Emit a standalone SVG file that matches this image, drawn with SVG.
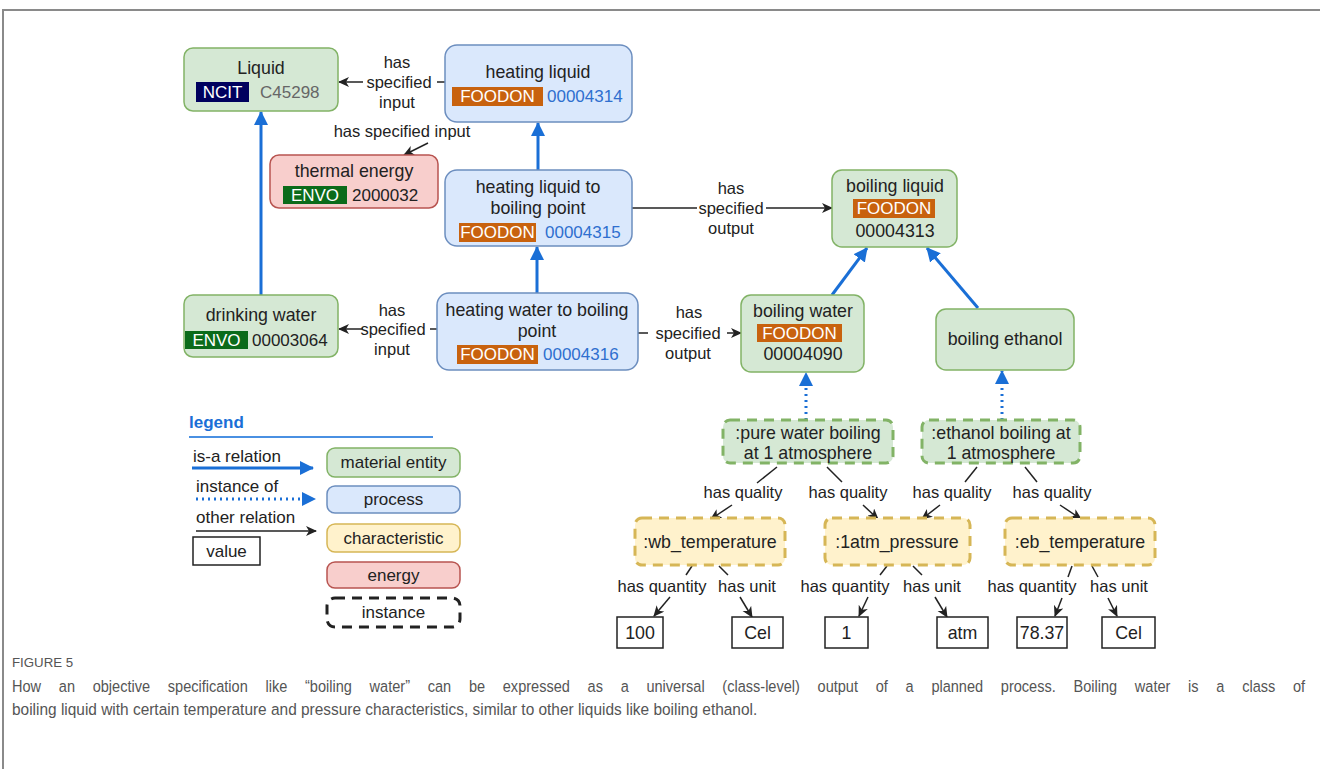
<svg xmlns="http://www.w3.org/2000/svg" width="1320" height="769" viewBox="0 0 1320 769">
  <style>
    text { font-family: "Liberation Sans", Arial, sans-serif; fill: #222; }
    .nt { font-size: 17.8px; text-anchor: middle; }
    .lb { font-size: 16.5px; text-anchor: middle; }
    .bt { font-size: 17px; fill: #fff; text-anchor: middle; }
    .idb { font-size: 17px; fill: #2f6fcf; }
    .idk { font-size: 17px; fill: #222; }
    .mat { fill: #d5e8d4; stroke: #82b366; stroke-width: 1.5; }
    .pro { fill: #dae8fc; stroke: #6c8ebf; stroke-width: 1.5; }
    .chr { fill: #fff2cc; stroke: #d6b656; stroke-width: 1.5; }
    .eng { fill: #f8cecc; stroke: #b85450; stroke-width: 1.5; }
    .inst { stroke-width: 3; stroke-dasharray: 10 7; }
    .val { fill: #fff; stroke: #222; stroke-width: 1.5; }
    .isa { fill: none; stroke: #1a6fd6; stroke-width: 3; marker-end: url(#blueHead); }
    .iof { fill: none; stroke: #1a6fd6; stroke-width: 3; stroke-dasharray: 2 4; marker-end: url(#blueHead); }
    .rel { fill: none; stroke: #222; stroke-width: 1.5; }
    .rela { fill: none; stroke: #222; stroke-width: 1.5; marker-end: url(#blackHead); }
    .foodon { fill: #c8620e; }
    .envo { fill: #0b6b1a; }
    .ncit { fill: #00005e; }
    .cap { font-family: "Liberation Sans", Arial, sans-serif; fill: #555; }
  </style>
  <defs>
    <marker id="blueHead" markerUnits="userSpaceOnUse" markerWidth="16" markerHeight="16" refX="13" refY="7" orient="auto">
      <path d="M0,0 L14,7 L0,14 Z" fill="#1a6fd6"/>
    </marker>
    <marker id="blackHead" markerUnits="userSpaceOnUse" markerWidth="12" markerHeight="12" refX="10" refY="5" orient="auto">
      <path d="M0,0 L11,5 L0,10 L3,5 Z" fill="#222"/>
    </marker>
  </defs>

  <rect x="0" y="0" width="1320" height="769" fill="#fff"/>
  <!-- figure frame -->
  <path d="M3,769 V10 H1320" fill="none" stroke="#8a8a8a" stroke-width="2"/>

  <!-- connectors -->
  <g id="connectors">
    <path class="isa" d="M261,295 V112"/>
    <path class="isa" d="M538,170 V123"/>
    <path class="isa" d="M537,293 V247"/>
    <path class="isa" d="M832,295 L867,248"/>
    <path class="isa" d="M978,308 L927,248"/>
    <path class="iof" d="M806,420 V373"/>
    <path class="iof" d="M1002,420 V371"/>

    <path class="rel" d="M445,82 H437"/>
    <path class="rela" d="M363,82 H339"/>
    <path class="rela" d="M428,143 L404,155"/>
    <path class="rel" d="M632,208 H697"/>
    <path class="rela" d="M766,208 H832"/>
    <path class="rel" d="M437,329 H430"/>
    <path class="rela" d="M363,329 H339"/>
    <path class="rel" d="M638,333 H648"/>
    <path class="rela" d="M727,333 H741"/>

    <path class="rel" d="M777,467 L757,483"/>
    <path class="rela" d="M732,505 L711,519"/>
    <path class="rel" d="M827,467 L842,482"/>
    <path class="rela" d="M863,505 L878,519"/>
    <path class="rel" d="M977,467 L965,482"/>
    <path class="rela" d="M940,505 L922,519"/>
    <path class="rel" d="M1025,467 L1037,482"/>
    <path class="rela" d="M1060,505 L1081,519"/>

    <path class="rel" d="M692,566 L686,575"/>
    <path class="rela" d="M670,597 L654,616"/>
    <path class="rel" d="M719,566 L728,575"/>
    <path class="rela" d="M740,597 L752,617"/>
    <path class="rel" d="M887,566 L880,575"/>
    <path class="rela" d="M868,597 L859,616"/>
    <path class="rel" d="M913,566 L922,575"/>
    <path class="rela" d="M935,597 L947,617"/>
    <path class="rel" d="M1072,566 L1068,577"/>
    <path class="rela" d="M1062,598 L1055,616"/>
    <path class="rel" d="M1092,566 L1098,577"/>
    <path class="rela" d="M1108,598 L1117,616"/>

    <!-- connector labels -->
    <text class="lb" x="397" y="68">has</text>
    <text class="lb" x="399" y="88">specified</text>
    <text class="lb" x="397" y="108">input</text>
    <text class="lb" x="402" y="137">has specified input</text>
    <text class="lb" x="731" y="194">has</text>
    <text class="lb" x="731" y="214">specified</text>
    <text class="lb" x="731" y="234">output</text>
    <text class="lb" x="392" y="316">has</text>
    <text class="lb" x="393" y="335">specified</text>
    <text class="lb" x="392" y="355">input</text>
    <text class="lb" x="689" y="318">has</text>
    <text class="lb" x="688" y="339">specified</text>
    <text class="lb" x="688" y="359">output</text>
    <text class="lb" x="743" y="498">has quality</text>
    <text class="lb" x="848" y="498">has quality</text>
    <text class="lb" x="952" y="498">has quality</text>
    <text class="lb" x="1052" y="498">has quality</text>
    <text class="lb" x="662" y="592">has quantity</text>
    <text class="lb" x="747" y="592">has unit</text>
    <text class="lb" x="845" y="592">has quantity</text>
    <text class="lb" x="932" y="592">has unit</text>
    <text class="lb" x="1032" y="592">has quantity</text>
    <text class="lb" x="1119" y="592">has unit</text>
  </g>

  <!-- class nodes -->
  <g id="liquid">
    <rect class="mat" x="184" y="48" width="154" height="63" rx="9"/>
    <text class="nt" x="261" y="74">Liquid</text>
    <rect class="ncit" x="196" y="82" width="53" height="20"/>
    <text class="bt" x="222.5" y="98">NCIT</text>
    <text class="idk" x="260" y="98" style="fill:#666">C45298</text>
  </g>

  <g id="heating-liquid">
    <rect class="pro" x="445" y="45" width="187" height="77" rx="12"/>
    <text class="nt" x="538" y="78">heating liquid</text>
    <rect class="foodon" x="452" y="87" width="91" height="19"/>
    <text class="bt" x="497.5" y="102">FOODON</text>
    <text class="idb" x="547" y="102">00004314</text>
  </g>

  <g id="thermal-energy">
    <rect class="eng" x="270" y="155" width="168" height="53" rx="9"/>
    <text class="nt" x="354" y="177">thermal energy</text>
    <rect class="envo" x="283" y="186" width="64" height="18"/>
    <text class="bt" x="315" y="201">ENVO</text>
    <text class="idk" x="352" y="201">2000032</text>
  </g>

  <g id="heating-liquid-to-boiling-point">
    <rect class="pro" x="445" y="170" width="187" height="76" rx="12"/>
    <text class="nt" x="538" y="193">heating liquid to</text>
    <text class="nt" x="538" y="214">boiling point</text>
    <rect class="foodon" x="459" y="223" width="77" height="19"/>
    <text class="bt" x="497.5" y="238">FOODON</text>
    <text class="idb" x="545" y="238">00004315</text>
  </g>

  <g id="boiling-liquid">
    <rect class="mat" x="832" y="170" width="125" height="77" rx="10"/>
    <text class="nt" x="895" y="192">boiling liquid</text>
    <rect class="foodon" x="853" y="199" width="82" height="19"/>
    <text class="bt" x="894" y="214">FOODON</text>
    <text class="nt" x="895" y="237">00004313</text>
  </g>

  <g id="drinking-water">
    <rect class="mat" x="184" y="295" width="154" height="62" rx="9"/>
    <text class="nt" x="261" y="321">drinking water</text>
    <rect class="envo" x="185" y="331" width="63" height="18"/>
    <text class="bt" x="216.5" y="346">ENVO</text>
    <text class="idk" x="252" y="346">00003064</text>
  </g>

  <g id="heating-water-to-boiling-point">
    <rect class="pro" x="437" y="293" width="201" height="77" rx="12"/>
    <text class="nt" x="537" y="316">heating water to boiling</text>
    <text class="nt" x="537" y="337">point</text>
    <rect class="foodon" x="457" y="345" width="81" height="19"/>
    <text class="bt" x="497.5" y="360">FOODON</text>
    <text class="idb" x="543" y="360">00004316</text>
  </g>

  <g id="boiling-water">
    <rect class="mat" x="741" y="295" width="123" height="77" rx="10"/>
    <text class="nt" x="803" y="317">boiling water</text>
    <rect class="foodon" x="757" y="324" width="85" height="18"/>
    <text class="bt" x="799.5" y="339">FOODON</text>
    <text class="nt" x="803" y="360">00004090</text>
  </g>

  <g id="boiling-ethanol">
    <rect class="mat" x="936" y="309" width="138" height="61" rx="10"/>
    <text class="nt" x="1005" y="345">boiling ethanol</text>
  </g>

  <!-- instance nodes -->
  <g id="pure-water-boiling">
    <rect class="mat inst" x="723" y="420" width="170" height="43" rx="7"/>
    <text class="nt" x="808" y="439">:pure water boiling</text>
    <text class="nt" x="808" y="459">at 1 atmosphere</text>
  </g>

  <g id="ethanol-boiling">
    <rect class="mat inst" x="922" y="420" width="158" height="43" rx="7"/>
    <text class="nt" x="1001" y="439">:ethanol boiling at</text>
    <text class="nt" x="1001" y="459">1 atmosphere</text>
  </g>

  <g id="wb-temperature">
    <rect class="chr inst" x="635" y="518" width="150" height="47" rx="7"/>
    <text class="nt" x="710" y="548">:wb_temperature</text>
  </g>

  <g id="atm-pressure">
    <rect class="chr inst" x="825" y="518" width="145" height="47" rx="7"/>
    <text class="nt" x="897" y="548">:1atm_pressure</text>
  </g>

  <g id="eb-temperature">
    <rect class="chr inst" x="1005" y="518" width="150" height="47" rx="7"/>
    <text class="nt" x="1080" y="548">:eb_temperature</text>
  </g>

  <!-- value nodes -->
  <g id="value-100">
    <rect class="val" x="617" y="617" width="46" height="31"/>
    <text class="nt" x="640" y="639">100</text>
  </g>
  <g id="value-cel-1">
    <rect class="val" x="732" y="617" width="51" height="31"/>
    <text class="nt" x="757.5" y="639">Cel</text>
  </g>
  <g id="value-1">
    <rect class="val" x="825" y="617" width="43" height="31"/>
    <text class="nt" x="846.5" y="639">1</text>
  </g>
  <g id="value-atm">
    <rect class="val" x="937" y="617" width="51" height="31"/>
    <text class="nt" x="962.5" y="639">atm</text>
  </g>
  <g id="value-7837">
    <rect class="val" x="1017" y="617" width="50" height="31"/>
    <text class="nt" x="1042" y="639">78.37</text>
  </g>
  <g id="value-cel-2">
    <rect class="val" x="1102" y="617" width="53" height="31"/>
    <text class="nt" x="1128.5" y="639">Cel</text>
  </g>

  <!-- legend -->
  <g id="legend">
    <text x="189" y="428" style="font-size:17px;font-weight:bold;fill:#1a6fd6">legend</text>
    <line x1="189" y1="437" x2="433" y2="437" stroke="#4a90e2" stroke-width="2"/>
    <text x="193" y="462" style="font-size:17px">is-a relation</text>
    <path class="isa" d="M192,468 H313"/>
    <text x="196" y="492" style="font-size:17px">instance of</text>
    <path class="iof" d="M196,499 H315"/>
    <text x="196" y="523" style="font-size:17px">other relation</text>
    <path class="rela" d="M196,531 H316"/>
    <rect class="val" x="193" y="537" width="67" height="28"/>
    <text class="nt" x="226.5" y="557" style="font-size:17px">value</text>
    <rect class="mat" x="327" y="448" width="133" height="29" rx="8"/>
    <text class="nt" x="393.5" y="468" style="font-size:17px">material entity</text>
    <rect class="pro" x="327" y="486" width="133" height="27" rx="8"/>
    <text class="nt" x="393.5" y="505" style="font-size:17px">process</text>
    <rect class="chr" x="327" y="524" width="133" height="28" rx="8"/>
    <text class="nt" x="393.5" y="544" style="font-size:17px">characteristic</text>
    <rect class="eng" x="327" y="562" width="133" height="26" rx="8"/>
    <text class="nt" x="393.5" y="581" style="font-size:17px">energy</text>
    <rect x="327" y="598" width="133" height="29" rx="8" fill="none" stroke="#222" class="inst"/>
    <text class="nt" x="393.5" y="618" style="font-size:17px">instance</text>
  </g>

  <!-- caption: condensed face, first line justified by word spacing -->
  <g id="caption" transform="translate(12,0) scale(0.72,1)">
    <text class="cap" x="0" y="667" style="font-size:13px" textLength="85" lengthAdjust="spacingAndGlyphs">FIGURE 5</text>
    <text class="cap" x="0" y="692" style="font-size:17px;word-spacing:16px" textLength="1796" lengthAdjust="spacingAndGlyphs">How an objective specification like “boiling water” can be expressed as a universal (class-level) output of a planned process. Boiling water is a class of</text>
    <text class="cap" x="0" y="715" style="font-size:17px" textLength="1035" lengthAdjust="spacingAndGlyphs">boiling liquid with certain temperature and pressure characteristics, similar to other liquids like boiling ethanol.</text>
  </g>
</svg>
